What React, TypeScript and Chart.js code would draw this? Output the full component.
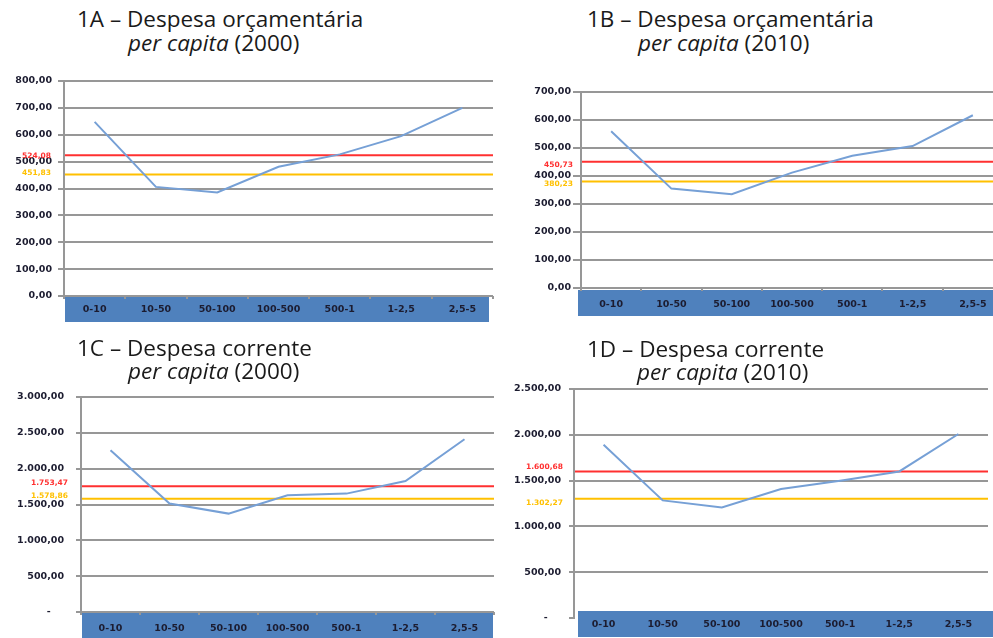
import React, { useEffect, useRef } from 'react';
import { Chart, registerables } from 'chart.js';

Chart.register(...registerables);

// ---------- data ----------
const categories = ['0-10', '10-50', '50-100', '100-500', '500-1', '1-2,5', '2,5-5'];
const despOrc2000 = [648, 406, 385, 481, 527, 595, 700];
const despOrc2010 = [560, 355, 335, 412, 472, 507, 617];
const despCor2000 = [2256, 1513, 1373, 1628, 1652, 1828, 2410];
const despCor2010 = [1892, 1284, 1207, 1408, 1499, 1600, 2009];
const redRefValues = [524.08, 450.73, 1753.47, 1600.68];
const yellowRefValues = [451.83, 380.23, 1578.86, 1302.27];
const yMaxValues = [800, 700, 3000, 2500];
const yStepValues = [100, 100, 500, 500];
const zeroAsDash = [false, false, true, true];
const titleLine1 = ['1A – Despesa orçamentária', '1B – Despesa orçamentária', '1C – Despesa corrente', '1D – Despesa corrente'];
const titleItalic = ['per capita', 'per capita', 'per capita', 'per capita'];
const titleYears = ['(2000)', '(2010)', '(2000)', '(2010)'];
const seriesList = [despOrc2000, despOrc2010, despCor2000, despCor2010];

// ---------- styles / layout ----------
const GRID = '#979797';
const BAND = '#4F81BD';
const LINE = '#76a0d6';
const RED = '#ff3030';
const YELLOW = '#ffc000';
const TICK_TEXT = '#1c1c30';

type Layout = {
  left: number; top: number; width: number; height: number;
  padTop: number; padRight: number; padBottom: number;
  yWidth: number; xHeight: number;
  yTickLen: number; yTickPad: number;
  xTickLen: number; xTickPad: number;
  bandGap: number; bandLeft: number; bandRight: number;
  hideZeroGrid: boolean;
  refGap: number; redDy: number; yellowDy: number;
  t1Left: number; t1Top: number; t2Left: number; t2Top: number;
};

const layouts: Layout[] = [
  { left: 0, top: 60, width: 500, height: 270, padTop: 21, padRight: 7, padBottom: 8, yWidth: 64, xHeight: 26,
    yTickLen: 6, yTickPad: 6, xTickLen: 3, xTickPad: 5, bandGap: 0, bandLeft: 1, bandRight: -4, hideZeroGrid: false,
    refGap: 13, redDy: 1, yellowDy: -2, t1Left: 77, t1Top: 7, t2Left: 128, t2Top: 31 },
  { left: 500, top: 60, width: 510, height: 270, padTop: 32, padRight: 7, padBottom: 14, yWidth: 81, xHeight: 28,
    yTickLen: 8, yTickPad: 2, xTickLen: 3, xTickPad: 8, bandGap: 2, bandLeft: -3, bandRight: 10, hideZeroGrid: false,
    refGap: 8, redDy: 3, yellowDy: 3, t1Left: 587, t1Top: 7, t2Left: 638, t2Top: 31 },
  { left: 0, top: 330, width: 500, height: 308, padTop: 67, padRight: 6, padBottom: 0, yWidth: 81, xHeight: 26,
    yTickLen: 5, yTickPad: 12, xTickLen: 3, xTickPad: 8, bandGap: 1, bandLeft: 1, bandRight: -1, hideZeroGrid: false,
    refGap: 13, redDy: -3, yellowDy: -3, t1Left: 77, t1Top: 336, t2Left: 128, t2Top: 359 },
  { left: 500, top: 330, width: 500, height: 308, padTop: 59, padRight: 12, padBottom: 0, yWidth: 74, xHeight: 20,
    yTickLen: 5, yTickPad: 8, xTickLen: 0, xTickPad: 1, bandGap: -7, bandLeft: 4, bandRight: 14, hideZeroGrid: true,
    refGap: 11, redDy: -4, yellowDy: 4, t1Left: 587, t1Top: 337, t2Left: 637, t2Top: 360 },
];

function fmtBR(v: number): string {
  const [i, d] = Math.abs(v).toFixed(2).split('.');
  const ii = i.replace(/\B(?=(\d{3})+(?!\d))/g, '.');
  return (v < 0 ? '-' : '') + ii + ',' + d;
}

function Panel({ idx }: { idx: number }) {
  const ref = useRef<HTMLCanvasElement | null>(null);
  const L = layouts[idx];

  useEffect(() => {
    const canvas = ref.current;
    if (!canvas) return;

    const bandPlugin = {
      id: 'band' + idx,
      beforeDraw(chart: any) {
        const x = chart.scales.x;
        const ctx = chart.ctx;
        ctx.save();
        ctx.fillStyle = BAND;
        const left = x.left + L.bandLeft;
        const right = x.right + L.bandRight;
        ctx.fillRect(left, x.top + L.bandGap, right - left, 26);
        ctx.restore();
      },
    };

    const refPlugin = {
      id: 'ref' + idx,
      beforeDatasetsDraw(chart: any) {
        const y = chart.scales.y;
        const area = chart.chartArea;
        const ctx = chart.ctx;
        const refs = [
          { v: redRefValues[idx], c: RED, dy: L.redDy },
          { v: yellowRefValues[idx], c: YELLOW, dy: L.yellowDy },
        ];
        ctx.save();
        refs.forEach((r) => {
          const py = y.getPixelForValue(r.v);
          ctx.strokeStyle = r.c;
          ctx.lineWidth = 2;
          ctx.beginPath();
          ctx.moveTo(area.left + 1, py);
          ctx.lineTo(area.right, py);
          ctx.stroke();
          ctx.fillStyle = r.c;
          ctx.font = 'bold 7.5px "DejaVu Sans"';
          ctx.textAlign = 'right';
          ctx.textBaseline = 'middle';
          ctx.fillText(fmtBR(r.v), area.left - L.refGap, py + r.dy);
        });
        ctx.restore();
      },
    };

    const chart = new Chart(canvas, {
      type: 'line',
      data: {
        labels: categories,
        datasets: [
          {
            data: seriesList[idx],
            borderColor: LINE,
            borderWidth: 2,
            pointRadius: 0,
            tension: 0,
            fill: false,
          },
        ],
      },
      options: {
        responsive: false,
        animation: false,
        devicePixelRatio: 1,
        layout: {
          autoPadding: false,
          padding: { top: L.padTop, right: L.padRight, bottom: L.padBottom, left: 0 },
        },
        plugins: { legend: { display: false }, tooltip: { enabled: false }, title: { display: false } },
        scales: {
          x: {
            offset: true,
            afterFit(scale: any) { scale.height = L.xHeight; },
            border: { display: false },
            grid: {
              display: true,
              offset: true,
              drawOnChartArea: false,
              drawTicks: true,
              tickLength: L.xTickLen,
              color: GRID,
              lineWidth: 2,
            },
            ticks: {
              color: TICK_TEXT,
              padding: L.xTickPad,
              maxRotation: 0,
              autoSkip: false,
              font: { family: '"DejaVu Sans"', size: 9.5, weight: 'bold' },
            },
          },
          y: {
            min: 0,
            max: yMaxValues[idx],
            afterFit(scale: any) { scale.width = L.yWidth; },
            border: { display: true, color: GRID, width: 2 },
            grid: {
              color: (c: any) => (L.hideZeroGrid && c.tick && c.tick.value === 0 ? 'rgba(0,0,0,0)' : GRID),
              tickColor: GRID,
              lineWidth: 2,
              drawTicks: true,
              tickLength: L.yTickLen,
            },
            ticks: {
              stepSize: yStepValues[idx],
              color: TICK_TEXT,
              padding: L.yTickPad,
              font: { family: '"DejaVu Sans"', size: 9.5, weight: 'bold' },
              callback: (v: any) => (zeroAsDash[idx] && Number(v) === 0 ? '-    ' : fmtBR(Number(v))),
            },
          },
        },
      } as any,
      plugins: [bandPlugin, refPlugin],
    });

    return () => chart.destroy();
  }, [idx]);

  return (
    <canvas
      ref={ref}
      width={L.width}
      height={L.height}
      style={{ position: 'absolute', left: L.left, top: L.top, width: L.width, height: L.height }}
    />
  );
}

function Title({ idx }: { idx: number }) {
  const L = layouts[idx];
  const base: React.CSSProperties = {
    position: 'absolute',
    fontFamily: '"Open Sans", "Noto Sans", sans-serif',
    fontSize: 22.5,
    lineHeight: '24px',
    color: '#1a1a1a',
    whiteSpace: 'nowrap',
  };
  return (
    <>
      <div style={{ ...base, left: L.t1Left, top: L.t1Top }}>{titleLine1[idx]}</div>
      <div style={{ ...base, left: L.t2Left, top: L.t2Top }}>
        <i>{titleItalic[idx]}</i> {titleYears[idx]}
      </div>
    </>
  );
}

export default function App() {
  return (
    <div
      style={{
        position: 'fixed',
        left: 0,
        top: 0,
        width: 993,
        height: 638,
        overflow: 'hidden',
        background: '#ffffff',
      }}
    >
      {[0, 1, 2, 3].map((i) => (
        <Panel key={'p' + i} idx={i} />
      ))}
      {[0, 1, 2, 3].map((i) => (
        <Title key={'t' + i} idx={i} />
      ))}
    </div>
  );
}
